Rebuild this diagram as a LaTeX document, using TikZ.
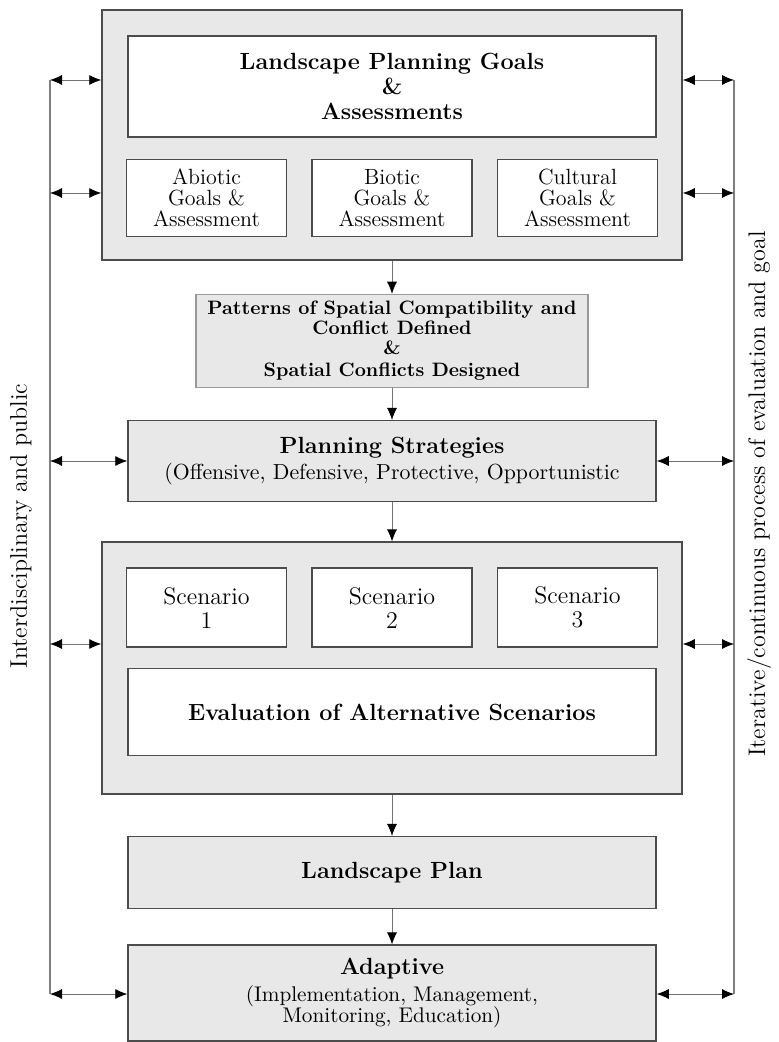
\documentclass[tikz,border=0pt]{standalone}
\usepackage{amsmath}
\usepackage{tikz}
\usetikzlibrary{shapes.geometric, arrows.meta, calc, positioning}
\tikzstyle{frame} = [rectangle, draw=black!70, line width=0.75pt, fill=black!9, minimum width=290pt, inner sep=0pt]
\tikzstyle{block} = [rectangle, draw=black!70, line width=0.75pt, fill=black!9, minimum width=264pt, inner sep=0pt, text centered, align=center]
\tikzstyle{goal} = [block, fill=white, minimum width=80pt, minimum height=38.5pt, font=\fontsize{11}{10.5}\selectfont]
\tikzstyle{scenario} = [block, fill=white, minimum width=80pt, minimum height=39.5pt, font=\fontsize{12}{12}\selectfont]
\tikzstyle{title} = [font=\fontsize{11.7}{12}\selectfont\bfseries]
\tikzstyle{arrow} = [line width=0.4pt, draw=black!55, -{Latex[black,length=6pt,width=5pt]}]
\tikzstyle{twoway} = [line width=0.4pt, draw=black!55, {Latex[black,length=6pt,width=5pt]}-{Latex[black,length=6pt,width=5pt]}]
\tikzstyle{rail} = [line width=0.8pt, draw=black!50]
\tikzstyle{side} = [rotate=90, font=\fontsize{12}{14}\selectfont]

\begin{document}
\begin{tikzpicture}[x=0.5pt, y=-0.5pt]
		\useasboundingbox (0,0) rectangle (779,1042);
		% goals and assessments
		\node (Goals) [frame, minimum height=125pt] at (392,135) {};
		\node (GoalsTitle) [block, fill=white, minimum height=50.5pt, below = 13pt of Goals.north, title] {Landscape Planning Goals\\[0.5pt]\&\\[0.5pt]Assessments};
		\node (Biotic) [goal, below = 10.5pt of GoalsTitle] {Biotic\\Goals \&\\Assessment};
		\node (Abiotic) [goal, left = 12pt of Biotic] {Abiotic\\Goals \&\\Assessment};
		\node (Cultural) [goal, right = 12pt of Biotic] {Cultural\\Goals \&\\Assessment};
		\node (Patterns) [block, draw=black!40, line width=0.6pt, minimum width=196pt, minimum height=46.5pt, below = 16.5pt of Goals, font=\fontsize{9.7}{10}\selectfont\bfseries] {Patterns of Spatial Compatibility and\\Conflict Defined\\\&\\[1pt]Spatial Conflicts Designed};
		\node (Strategies) [block, minimum height=40.5pt, below = 16pt of Patterns] {{\fontsize{11.7}{12}\selectfont\bfseries Planning Strategies}\\[1pt]{\fontsize{10.9}{11}\selectfont (Offensive, Defensive, Protective, Opportunistic}};
		% scenarios
		\node (Scenarios) [frame, minimum height=126pt, below = 19.5pt of Strategies] {};
		\node (ScenarioB) [scenario, below = 13pt of Scenarios.north] {Scenario\\2};
		\node (ScenarioA) [scenario, left = 12pt of ScenarioB] {Scenario\\1};
		\node (ScenarioC) [scenario, right = 12pt of ScenarioB] {Scenario\\3};
		\node (Evaluation) [block, fill=white, minimum height=43.5pt, below = 10pt of ScenarioB, title] {Evaluation of Alternative Scenarios};
		\node (Plan) [block, minimum height=36pt, below = 20.5pt of Scenarios, title] {Landscape Plan};
		\node (Adaptive) [block, minimum height=48pt, below = 17.5pt of Plan] {{\fontsize{11.7}{12}\selectfont\bfseries Adaptive}\\[1.5pt]{\fontsize{10.6}{10.3}\selectfont (Implementation, Management,}\\[-1.5pt]{\fontsize{10.6}{10.3}\selectfont Monitoring, Education)}};
		% rails on both sides
		\coordinate (LeftTop) at (50,80);
		\coordinate (LeftGoals) at (50,193);
		\coordinate (LeftStrategies) at (50,461);
		\coordinate (LeftScenarios) at (50,644);
		\coordinate (LeftBottom) at (50,994);
		\coordinate (RightTop) at (734,80);
		\coordinate (RightGoals) at (734,193);
		\coordinate (RightStrategies) at (734,461);
		\coordinate (RightScenarios) at (734,644);
		\coordinate (RightBottom) at (734,994);
		\draw [rail] (LeftTop) -- (LeftBottom);
		\draw [rail] (RightTop) -- (RightBottom);
		\node (PublicLabel) [side] at (21,526) {Interdisciplinary and public};
		\node (IterativeLabel) [side] at (759,494) {Iterative/continuous process of evaluation and goal};
		\draw [twoway] (LeftTop) -- (LeftTop -| Goals.west);
		\draw [twoway] (LeftGoals) -- (LeftGoals -| Goals.west);
		\draw [twoway] (LeftStrategies) -- (LeftStrategies -| Strategies.west);
		\draw [twoway] (LeftScenarios) -- (LeftScenarios -| Scenarios.west);
		\draw [twoway] (LeftBottom) -- (LeftBottom -| Adaptive.west);
		\draw [twoway] (Goals.east |- RightTop) -- (RightTop);
		\draw [twoway] (Goals.east |- RightGoals) -- (RightGoals);
		\draw [twoway] (Strategies.east |- RightStrategies) -- (RightStrategies);
		\draw [twoway] (Scenarios.east |- RightScenarios) -- (RightScenarios);
		\draw [twoway] (Adaptive.east |- RightBottom) -- (RightBottom);
		% main flow
		\draw [arrow] (Goals) -- (Patterns);
		\draw [arrow] (Patterns) -- (Strategies);
		\draw [arrow] (Strategies) -- (Scenarios);
		\draw [arrow] (Scenarios) -- (Plan);
		\draw [arrow] (Plan) -- (Adaptive);
\end{tikzpicture}
\end{document}
